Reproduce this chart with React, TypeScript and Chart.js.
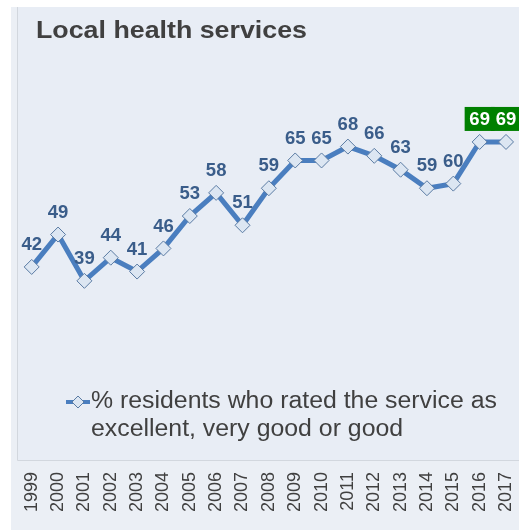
import React, { useEffect, useRef } from "react";
import { Chart, registerables } from "chart.js";

Chart.register(...registerables);

const years = ["1999", "2000", "2001", "2002", "2003", "2004", "2005", "2006", "2007", "2008", "2009", "2010", "2011", "2012", "2013", "2014", "2015", "2016", "2017"];
const values = [42, 49, 39, 44, 41, 46, 53, 58, 51, 59, 65, 65, 68, 66, 63, 59, 60, 69, 69];
const highlightedYears = ["2016", "2017"];
const titleText = "Local health services";
const legendLines = ["% residents who rated the service as", "excellent, very good or good"];

const FONT = "'Liberation Sans', Arial, Helvetica, sans-serif";
const LINE_COLOR = "#4A7EBF";
const LABEL_COLOR = "#3A5D8A";
const TEXT_COLOR = "#404040";

const decorPlugin = {
  id: "decor",
  beforeDraw(chart: any) {
    const ctx = chart.ctx as CanvasRenderingContext2D;
    const W = chart.width;
    const H = chart.height;
    ctx.save();
    ctx.fillStyle = "#ffffff";
    ctx.fillRect(0, 0, W, H);
    ctx.fillStyle = "#EBEFF5";
    ctx.fillRect(11, 7, W - 11, H - 7);
    ctx.fillStyle = "#E8EDF5";
    ctx.fillRect(17, 7, W - 17, 453);
    ctx.strokeStyle = "#D2D7DE";
    ctx.lineWidth = 1;
    ctx.beginPath();
    ctx.moveTo(17.5, 7);
    ctx.lineTo(17.5, 460.5);
    ctx.lineTo(W, 460.5);
    ctx.stroke();
    // title
    ctx.fillStyle = TEXT_COLOR;
    ctx.font = `bold 24px ${FONT}`;
    ctx.textAlign = "left";
    ctx.textBaseline = "middle";
    ctx.translate(36, 31);
    ctx.scale(1.116, 1);
    ctx.fillText(titleText, 0, 0);
    ctx.restore();
  },
  afterDatasetsDraw(chart: any) {
    const ctx = chart.ctx as CanvasRenderingContext2D;
    const meta = chart.getDatasetMeta(0);
    ctx.save();
    ctx.font = `bold 18.5px ${FONT}`;
    ctx.textAlign = "center";
    ctx.textBaseline = "middle";
    meta.data.forEach((pt: any, i: number) => {
      const x = pt.x;
      const y = pt.y - 23;
      if (highlightedYears.includes(years[i])) {
        ctx.fillStyle = "#008000";
        ctx.fillRect(x - 15, y - 12, 30, 24);
        ctx.fillStyle = "#ffffff";
      } else {
        ctx.fillStyle = LABEL_COLOR;
      }
      ctx.fillText(String(values[i]), x, y + 1);
    });
    // legend
    const ly = 402;
    ctx.strokeStyle = LINE_COLOR;
    ctx.lineWidth = 4;
    ctx.beginPath();
    ctx.moveTo(66, ly);
    ctx.lineTo(90, ly);
    ctx.stroke();
    ctx.beginPath();
    ctx.moveTo(78, ly - 6);
    ctx.lineTo(84, ly);
    ctx.lineTo(78, ly + 6);
    ctx.lineTo(72, ly);
    ctx.closePath();
    ctx.fillStyle = "#DCE6F2";
    ctx.fill();
    ctx.strokeStyle = "#5A7BA3";
    ctx.lineWidth = 1;
    ctx.stroke();
    ctx.fillStyle = TEXT_COLOR;
    ctx.font = `23px ${FONT}`;
    ctx.textAlign = "left";
    ctx.textBaseline = "middle";
    legendLines.forEach((line, k) => {
      ctx.save();
      ctx.translate(91, ly + k * 28);
      ctx.scale(1.08, 1);
      ctx.fillText(line, 0, 0);
      ctx.restore();
    });
    ctx.restore();
  },
};

export default function App() {
  const ref = useRef<HTMLCanvasElement | null>(null);
  useEffect(() => {
    if (!ref.current) return;
    const chart = new Chart(ref.current, {
      type: "line",
      data: {
        labels: years,
        datasets: [
          {
            label: legendLines.join(" "),
            data: values,
            borderColor: LINE_COLOR,
            borderWidth: 5,
            tension: 0,
            pointStyle: "rectRot",
            pointRadius: 7.5,
            pointBackgroundColor: "#DCE6F2",
            pointBorderColor: "#5A7BA3",
            pointBorderWidth: 1,
          },
        ],
      },
      options: {
        responsive: false,
        animation: false,
        devicePixelRatio: 1,
        layout: { padding: { left: 31.7, right: 13, top: 60, bottom: 0 } },
        plugins: {
          legend: { display: false },
          tooltip: { enabled: false },
          title: { display: false },
        },
        scales: {
          x: {
            type: "category",
            offset: false,
            grid: { display: false, drawTicks: false, tickLength: 0 },
            border: { display: false },
            ticks: {
              autoSkip: false,
              minRotation: 90,
              maxRotation: 90,
              padding: 12,
              color: TEXT_COLOR,
              font: { family: FONT, size: 18 },
            },
            afterFit(scale: any) {
              scale.height = 70;
              scale.paddingLeft = 0;
              scale.paddingRight = 0;
            },
          },
          y: { display: false, min: 0.3, max: 86.7 },
        },
      },
      plugins: [decorPlugin],
    } as any);
    return () => chart.destroy();
  }, []);
  return (
    <div style={{ position: "fixed", left: 0, top: 0, width: 519, height: 530, overflow: "hidden" }}>
      <canvas ref={ref} width={519} height={530} style={{ display: "block" }} />
    </div>
  );
}
